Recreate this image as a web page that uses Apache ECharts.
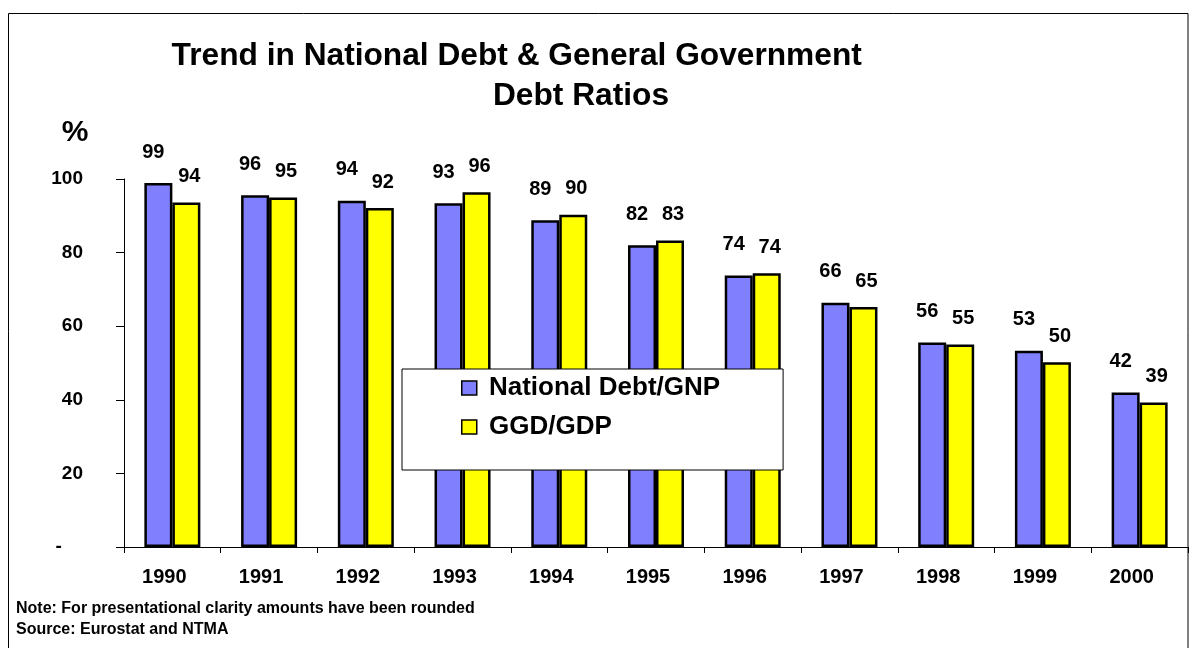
<!DOCTYPE html>
<html><head><meta charset="utf-8">
<script src="https://cdn.jsdelivr.net/npm/echarts@6/dist/echarts.min.js"></script>
<style>html,body{margin:0;padding:0;background:#fff}#c{width:1191px;height:648px}</style>
</head><body><div id="c"></div>
<script>
const years = ['1990','1991','1992','1993','1994','1995','1996','1997','1998','1999','2000'];
const nationalDebtGNP = [98.9, 95.6, 94.1, 93.4, 88.8, 82.0, 73.8, 66.4, 55.6, 53.3, 42.0];
const ggdGDP = [93.6, 95.0, 92.1, 96.4, 90.3, 83.3, 74.4, 65.2, 55.0, 50.2, 39.3];
const seriesNames = ['National Debt/GNP', 'GGD/GDP'];
const titleLines = ['Trend in National Debt & General Government', 'Debt Ratios'];
const yUnit = '%';
const notes = ['Note: For presentational clarity amounts have been rounded', 'Source: Eurostat and NTMA'];

const FONT = '"Liberation Sans", Arial, sans-serif';
const chart = echarts.init(document.getElementById('c'), null, {renderer: 'canvas'});

function barSeries(name, data, color, labelOffset, labelDist) {
  return {
    name: name, type: 'bar', data: data,
    barWidth: 28, barGap: '0%',
    itemStyle: {color: color, borderColor: '#000', borderWidth: 2.5},
    label: {
      show: true, position: 'top', distance: labelDist, offset: labelOffset,
      fontSize: 20, fontWeight: 'bold', color: '#000', fontFamily: FONT,
      formatter: p => String(Math.round(p.value))
    },
    emphasis: {disabled: true}
  };
}

const option = {
  animation: false,
  backgroundColor: '#fff',
  textStyle: {fontFamily: FONT},
  grid: {left: 124, top: 179, width: 1064, height: 368, containLabel: false},
  xAxis: {
    type: 'category', data: years,
    axisLine: {lineStyle: {color: '#000', width: 1}},
    axisTick: {show: true, length: 6, lineStyle: {color: '#000'}},
    axisLabel: {fontSize: 20, fontWeight: 'bold', color: '#000', margin: 20, fontFamily: FONT,
                padding: [0, 16, 0, 0]}
  },
  yAxis: {
    type: 'value', min: 0, max: 100, interval: 20,
    axisLine: {show: true, lineStyle: {color: '#000', width: 1}},
    axisTick: {show: true, length: 8, lineStyle: {color: '#000'}},
    splitLine: {show: false},
    axisLabel: {
      fontSize: 19, fontWeight: 'bold', color: '#000', margin: 41, fontFamily: FONT,
      formatter: v => v === 0 ? '-    ' : String(v)
    }
  },
  legend: {
    orient: 'vertical', left: 402, top: 369,
    backgroundColor: '#fff', borderColor: '#000', borderWidth: 1,
    padding: [6, 63, 30, 59],
    itemWidth: 15, itemHeight: 14, itemGap: 13,
    icon: 'rect',
    itemStyle: {borderColor: '#000', borderWidth: 1.5},
    formatter: n => ' ' + n,
    textStyle: {fontSize: 26, fontWeight: 'bold', color: '#000', lineHeight: 26, fontFamily: FONT},
    selectedMode: false,
    data: seriesNames
  },
  series: [
    barSeries(seriesNames[0], nationalDebtGNP, '#8080FF', [-5, 0], 21),
    barSeries(seriesNames[1], ggdGDP, '#FFFF00', [3, 0], 16)
  ],
  graphic: [
    {type: 'rect', silent: true, z: 100, shape: {x: 8.5, y: 13.5, width: 1179.5, height: 700},
     style: {fill: 'none', stroke: '#000', lineWidth: 1}},
    {type: 'text', silent: true, x: 516.7, y: 56,
     style: {text: titleLines[0], font: 'bold 31.7px ' + FONT, fill: '#000', align: 'center', verticalAlign: 'middle'}},
    {type: 'text', silent: true, x: 581, y: 96,
     style: {text: titleLines[1], font: 'bold 31.7px ' + FONT, fill: '#000', align: 'center', verticalAlign: 'middle'}},
    {type: 'text', silent: true, x: 75, y: 133,
     style: {text: yUnit, font: 'bold 30px ' + FONT, fill: '#000', align: 'center', verticalAlign: 'middle'}},
    {type: 'text', silent: true, x: 16, y: 609,
     style: {text: notes[0], font: 'bold 16px ' + FONT, fill: '#000', align: 'left', verticalAlign: 'middle'}},
    {type: 'text', silent: true, x: 16, y: 630,
     style: {text: notes[1], font: 'bold 16px ' + FONT, fill: '#000', align: 'left', verticalAlign: 'middle'}}
  ]
};
chart.setOption(option);
</script>
</body></html>
